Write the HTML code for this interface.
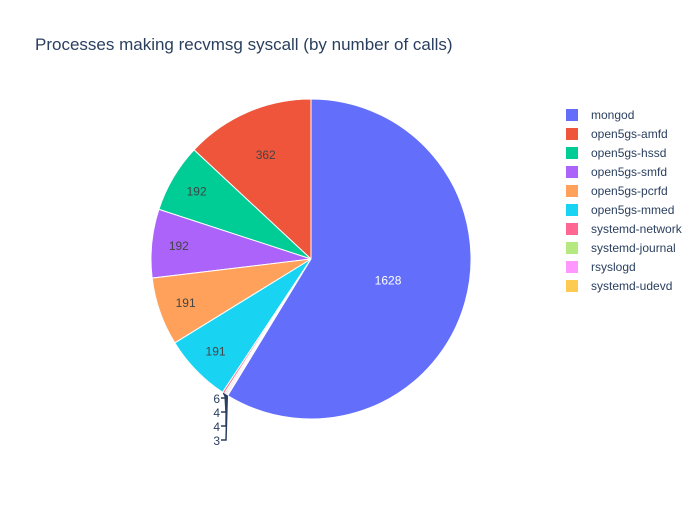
<!DOCTYPE html>
<html><head><meta charset="utf-8"><style>
body{margin:0;background:#fff;font-family:"Liberation Sans",Arial,sans-serif}
</style></head><body>
<svg id="chart" width="700" height="500" xmlns="http://www.w3.org/2000/svg">
<rect width="700" height="500" fill="#fff"/>
<text x="35" y="50" font-size="17" fill="#2a3f5f" font-family="Liberation Sans, sans-serif">Processes making recvmsg syscall (by number of calls)</text>
<g id="slices"></g><g id="labels"></g><g id="legend"></g>
</svg>
<script>
const categories=["mongod","open5gs-amfd","open5gs-hssd","open5gs-smfd","open5gs-pcrfd","open5gs-mmed","systemd-network","systemd-journal","rsyslogd","systemd-udevd"];
const values=[1628,362,192,192,191,191,6,4,4,3];
const colors=["#636efa","#EF553B","#00cc96","#ab63fa","#FFA15A","#19d3f3","#FF6692","#B6E880","#FF97FF","#FECB52"];
const NS="http://www.w3.org/2000/svg";
const cx=311,cy=259,r=160;
const total=values.reduce((a,b)=>a+b,0);
function pt(frac,rad){const a=frac*2*Math.PI;return [cx+rad*Math.sin(a),cy-rad*Math.cos(a)];}
function labelRadius(share){return share<0.1?0.83:(share<0.2?0.71:0.5);}
const gS=document.getElementById('slices'),gL=document.getElementById('labels'),gG=document.getElementById('legend');
const order=[];for(let i=1;i<values.length;i++)order.push(i);order.push(0);
let cum=0;let smallIdx=0;
order.forEach(i=>{
  const v=values[i];
  const f1=-cum/total,f0=-(cum+v)/total;cum+=v;
  const p0=pt(f0,r),p1=pt(f1,r);
  const large=(f1-f0)>0.5?1:0;
  const p=document.createElementNS(NS,'path');
  p.setAttribute('d',`M${cx},${cy}L${p0[0]},${p0[1]}A${r},${r} 0 ${large} 1 ${p1[0]},${p1[1]}Z`);
  p.setAttribute('fill',colors[i]);p.setAttribute('stroke','#fff');p.setAttribute('stroke-width','1');
  
  
  gS.appendChild(p);
  const fm=(f0+f1)/2;
  if(v/total>0.02){
    const t=document.createElementNS(NS,'text');
    t.setAttribute('font-size','12');
    t.textContent=v;
    const m=pt(fm,r*labelRadius(v/total));
    t.setAttribute('x',m[0]);t.setAttribute('y',m[1]+4);t.setAttribute('text-anchor','middle');
    t.setAttribute('fill',i==0?'#fff':'#444');
    
    
    gL.appendChild(t);
  }
  const y=115+i*19;
  const g=document.createElementNS(NS,'g');
  
  
  g.innerHTML=`<rect x="566" y="${y-6}" width="12" height="12" fill="${colors[i]}"/><text x="591" y="${y+4}" font-size="12" fill="#2a3f5f">${categories[i]}</text>`;
  gG.appendChild(g);
});
cum=0;
order.forEach(i=>{
  const v=values[i];
  const f1=-cum/total,f0=-(cum+v)/total;cum+=v;
  if(v/total>0.02)return;
  const e=pt((f0+f1)/2,r);
  const ly=402+smallIdx*14;smallIdx++;
  const l=document.createElementNS(NS,'polyline');
  l.setAttribute('points',`${e[0]},${e[1]} 226,${Math.max(e[1],ly-4)} 226,${ly-4} 221,${ly-4}`);
  l.setAttribute('fill','none');l.setAttribute('stroke','#2a3f5f');l.setAttribute('stroke-width','1.5');
  
  
  gL.appendChild(l);
  const t=document.createElementNS(NS,'text');
  t.setAttribute('font-size','12');t.textContent=v;
  t.setAttribute('x',220);t.setAttribute('y',ly+1);t.setAttribute('text-anchor','end');t.setAttribute('fill','#2a3f5f');
  
  
  gL.appendChild(t);
});
</script>
</body></html>
